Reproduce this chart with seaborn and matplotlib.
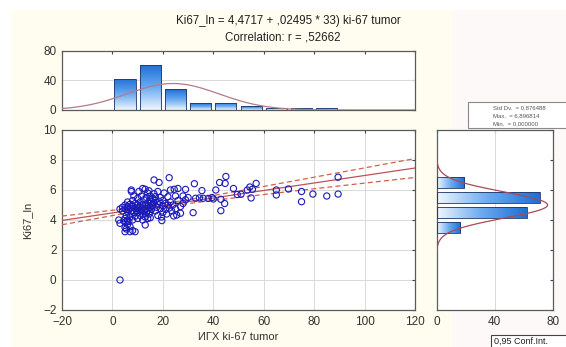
import numpy as np
import matplotlib
matplotlib.use("Agg")
import matplotlib.pyplot as plt
from matplotlib.colors import LinearSegmentedColormap
from matplotlib.patches import Rectangle
import seaborn as sns

# ИГХ ki-67 tumor (%) vs Ki67_ln
ki67_pct = [
    3, 9, 5, 7, 3, 2.5, 3,
    4, 4, 4.5, 5, 5, 5, 5, 5, 5.5, 5.5, 6, 6, 6, 6, 6, 6.5, 6.5, 7, 7, 7, 7,
    7.5, 7.5, 7.5, 8, 8, 8, 8, 8, 8.5, 8.5, 9, 9, 9, 9.5,
    16.5, 18.5, 13, 19.6,
    10, 10, 10, 10, 10, 10.5, 10.5, 11, 11, 11, 11, 11.5, 11.5, 12, 12, 12, 12, 12,
    12.5, 12.5, 13, 13, 13, 13, 13.5, 13.5, 14, 14, 14, 14, 14, 14.5, 14.5,
    15, 15, 15, 15, 15, 15, 15.5, 15.5, 16, 16, 16, 16.5, 16.5, 17, 17, 17, 17.5,
    18, 18, 18, 18.5, 19, 19, 19.5,
    22.5, 29, 28, 27, 25.5, 24.3,
    20, 20, 20, 20.5, 21, 21, 21.5, 22, 22, 22.5, 23, 23, 23.5, 24, 24.5, 25, 25,
    26, 26, 27, 28, 29,
    32.5, 35.5, 38, 39.5, 33, 32, 30, 36, 34.5,
    45, 42.5, 48, 43, 44.5, 43, 41, 49.5, 44.7, 40,
    57, 54.5, 53.5, 55, 51, 55.5,
    65, 65, 69.8,
    75, 75, 79.5,
    85, 89.5, 89.5,
]
ki67_ln = [
    0.0, 3.22, 3.22, 3.22, 3.78, 4.0, 4.73,
    4.85, 4.6, 3.95, 3.5, 3.85, 4.1, 4.75, 5.0, 3.4, 4.3, 3.7, 4.0, 4.55, 4.9, 5.2, 3.9, 4.7, 3.55, 4.2, 4.8, 5.05,
    4.45, 5.9, 6.0, 3.3, 4.0, 4.65, 4.95, 5.3, 4.5, 5.6, 4.25, 4.8, 5.1, 4.6,
    6.67, 6.5, 3.67, 3.96,
    4.1, 4.5, 4.75, 5.0, 5.45, 4.85, 5.9, 4.3, 4.65, 4.95, 5.2, 4.55, 5.6, 4.0, 4.4, 4.8, 5.05, 6.1,
    4.6, 5.35, 4.2, 4.75, 5.0, 6.05, 4.5, 5.5, 4.1, 4.65, 4.9, 5.15, 5.8, 4.4, 5.95,
    4.15, 4.55, 4.85, 5.1, 5.35, 5.6, 4.7, 5.25, 4.95, 5.45, 5.0, 5.15, 5.75, 4.6, 5.3, 5.55, 4.85,
    5.05, 5.9, 4.3, 5.25, 4.75, 5.5, 4.2,
    6.82, 6.04, 5.6, 4.9, 4.33, 4.27,
    4.5, 4.95, 5.3, 5.8, 4.7, 5.1, 4.4, 5.0, 5.55, 4.8, 6.0, 5.2, 4.6, 5.0, 6.05, 5.6, 4.75,
    5.3, 6.1, 4.45, 5.1, 5.35,
    6.42, 5.96, 5.44, 5.5, 5.45, 4.49, 5.5, 5.45, 5.47,
    6.9, 6.5, 6.1, 4.62, 5.1, 5.38, 6.0, 5.7, 6.44, 5.4,
    6.44, 6.2, 6.0, 5.47, 5.72, 6.05,
    6.0, 5.67, 6.07,
    5.9, 5.22, 5.73,
    5.6, 6.85, 5.73,
]

# histogram of ki-67 % (top) and of Ki67_ln (right)
top_bin_left = [0, 10, 20, 30, 40, 50, 60, 70, 80]
top_counts = [42, 61, 28, 9, 10, 5, 3, 3, 3]
right_bin_low = [3, 4, 5, 6]
right_counts = [16, 62, 71, 19]
right_total = 168  # includes the single case at 0

# fit shown in the title and fitted normal curves
intercept, slope = 4.4717, 0.02495
x_mean, x_sd = 24.0, 18.3
y_mean, y_sd = 5.0, 0.876488

W, H = 566, 347
BLUE_MAP = LinearSegmentedColormap.from_list("stat", ["#eef6fd", "#6aaaf0", "#1f6fd6"])
EDGE = "#1d3566"
SPINE = "#5a5a5a"
GRID = "#d9d9d9"
LINE = "#c0505a"


def fbox(left, top, width, height):
    return [left / W, 1 - (top + height) / H, width / W, height / H]


def gradient_bars(ax, bars, horizontal):
    grad = np.linspace(0, 1, 64)
    img = grad.reshape(1, -1) if horizontal else grad.reshape(-1, 1)
    for bar in bars:
        x0, y0 = bar.get_x(), bar.get_y()
        w, h = bar.get_width(), bar.get_height()
        im = ax.imshow(img, cmap=BLUE_MAP, extent=(x0, x0 + w, y0, y0 + h),
                       origin="lower", aspect="auto", zorder=2, interpolation="bilinear")
        im.set_clip_path(bar)
        bar.set_facecolor("none")
        bar.set_zorder(3)


def style_axes(ax):
    for sp in ax.spines.values():
        sp.set_color(SPINE)
        sp.set_linewidth(0.9)
    ax.tick_params(direction="in", length=2, width=0.8, color="#444444",
                   labelsize=8.5, labelcolor="#333333", top=True, right=True, pad=4)


sns.set_theme(style="white")
plt.rcParams["font.family"] = ["Liberation Sans", "DejaVu Sans"]

fig = plt.figure(figsize=(W / 100, H / 100), dpi=100, facecolor="white")
fig.patches.append(Rectangle((12 / W, 0), 440 / W, 1 - 10 / H, transform=fig.transFigure,
                             facecolor="#fffcf0", edgecolor="none", zorder=-5))
fig.patches.append(Rectangle((452 / W, 0), 114 / W, 1 - 10 / H, transform=fig.transFigure,
                             facecolor="#fdf9f8", edgecolor="none", zorder=-5))

ax = fig.add_axes(fbox(62, 130, 353, 180))
ax_top = fig.add_axes(fbox(62, 50.7, 353, 59.3))
ax_right = fig.add_axes(fbox(436.7, 130, 116, 180))

# main scatter
x = np.array(ki67_pct)
y = np.array(ki67_ln)
sns.scatterplot(x=x, y=y, ax=ax, marker="o", s=20, linewidth=0.8, zorder=4)
pts = ax.collections[-1]
pts.set_facecolor("none")
pts.set_edgecolor("#1a1ab8")

xs = np.linspace(-20, 120, 200)
fit = intercept + slope * xs
n = len(x)
resid = y - (intercept + slope * x)
s_err = np.sqrt((resid ** 2).sum() / (n - 2))
se = s_err * np.sqrt(1 / n + (xs - x.mean()) ** 2 / ((x - x.mean()) ** 2).sum())
sns.lineplot(x=xs, y=fit, ax=ax, color=LINE, linewidth=0.9, zorder=3)
sns.lineplot(x=xs, y=fit + 1.974 * se, ax=ax, color="#d0604a", linewidth=0.9, linestyle=(0, (4, 2.5)), zorder=3)
sns.lineplot(x=xs, y=fit - 1.974 * se, ax=ax, color="#d0604a", linewidth=0.9, linestyle=(0, (4, 2.5)), zorder=3)

ax.set_xlim(-20, 120)
ax.set_ylim(-2, 10)
ax.set_xticks(range(-20, 121, 20))
ax.set_yticks(range(-2, 11, 2))
ax.grid(True, color=GRID, linewidth=0.7)
ax.set_axisbelow(True)
ax.set_facecolor("white")
ax.set_xlabel("ИГХ ki-67 tumor", fontsize=8, color="#333333", labelpad=3)
ax.set_ylabel("Ki67_ln", fontsize=8, color="#333333", labelpad=8)
style_axes(ax)

# top histogram
bars = ax_top.bar(top_bin_left, top_counts, width=8.4, align="edge", edgecolor=EDGE, linewidth=0.6)
for b in bars:
    b.set_x(b.get_x() + 0.8)
gradient_bars(ax_top, bars, horizontal=False)
tx = np.linspace(-20, 120, 300)
tcurve = sum(top_counts) * 10 / (x_sd * np.sqrt(2 * np.pi)) * np.exp(-0.5 * ((tx - x_mean) / x_sd) ** 2)
sns.lineplot(x=tx, y=tcurve, ax=ax_top, color="#b47a88", linewidth=0.9, zorder=5)
ax_top.set_xlim(-20, 120)
ax_top.set_ylim(0, 80)
ax_top.set_xticks(range(-20, 121, 20))
ax_top.set_yticks([0, 40, 80])
ax_top.set_xticklabels([])
ax_top.grid(False)
ax_top.axhline(40, color=GRID, linewidth=0.7, zorder=1)
ax_top.set_facecolor("white")
style_axes(ax_top)

# right histogram
rbars = ax_right.barh(right_bin_low, right_counts, height=0.76, align="edge", edgecolor=EDGE, linewidth=0.6)
for b in rbars:
    b.set_y(b.get_y() + 0.12)
gradient_bars(ax_right, rbars, horizontal=True)
ry = np.linspace(-2, 10, 300)
rcurve = right_total * 1.0 / (y_sd * np.sqrt(2 * np.pi)) * np.exp(-0.5 * ((ry - y_mean) / y_sd) ** 2)
ax_right.plot(rcurve, ry, color="#a84a55", linewidth=0.9, zorder=5)
ax_right.set_xlim(0, 80)
ax_right.set_ylim(-2, 10)
ax_right.set_xticks([0, 40, 80])
ax_right.set_yticks(range(-2, 11, 2))
ax_right.set_yticklabels([])
ax_right.grid(False)
ax_right.axvline(40, color=GRID, linewidth=0.7, zorder=1)
ax_right.set_facecolor("white")
style_axes(ax_right)

# titles
fig.text(288 / W, 1 - 21 / H, "Ki67_ln = 4,4717 + ,02495 * 33) ki-67 tumor",
         ha="center", va="center", fontsize=8.3, color="#222222")
fig.text(283 / W, 1 - 37 / H, "Correlation: r = ,52662",
         ha="center", va="center", fontsize=8.3, color="#222222")

# stats box
fig.patches.append(Rectangle((468 / W, 1 - 128 / H), 110 / W, 26 / H, transform=fig.transFigure,
                             facecolor="white", edgecolor="#8a8a8a", linewidth=0.8, zorder=5))
for ty, txt in [(108, "Std Dv.  = 0,876488"), (116, "Max.  = 6,896814"), (123.5, "Min.  = 0,000000")]:
    fig.text(493 / W, 1 - ty / H, txt, ha="left", va="center", fontsize=4.3, color="#555555", zorder=6)

# confidence legend box
fig.patches.append(Rectangle((491 / W, -0.02), 90 / W, 0.02 + 12 / H, transform=fig.transFigure,
                             facecolor="white", edgecolor="#444444", linewidth=0.8, zorder=5))
fig.text(494 / W, 1 - 341.5 / H, "0,95 Conf.Int.", ha="left", va="center", fontsize=6.5,
         color="#222222", zorder=6)

fig.savefig("out.png", dpi=100)
